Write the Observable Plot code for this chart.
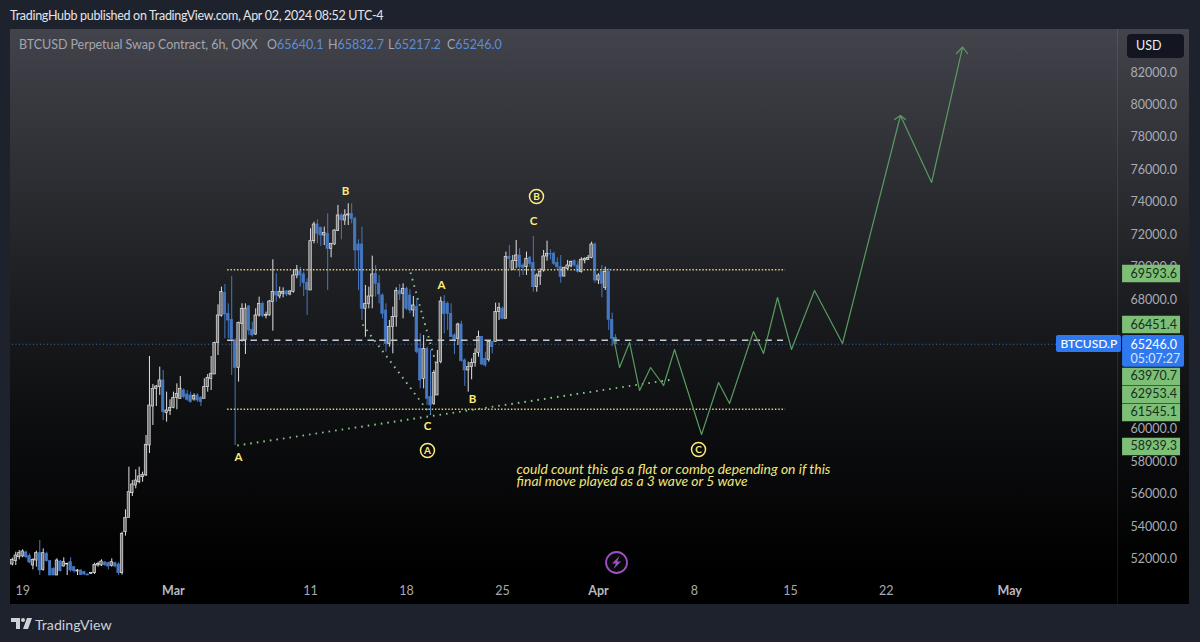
<!DOCTYPE html>
<html><head><meta charset="utf-8">
<script src="https://cdn.jsdelivr.net/npm/d3@7"></script>
<script src="https://cdn.jsdelivr.net/npm/@observablehq/plot@0.6"></script>
<style>
html,body{margin:0;padding:0;width:1200px;height:642px;overflow:hidden;background:#1e222d;font-family:Lato,"Noto Sans",sans-serif}
.abs{position:absolute;white-space:nowrap}
#panel{left:10px;top:29px;width:1179px;height:575px;background:linear-gradient(#42434b 0,#35363c 16%,#1c1d20 47%,#0d0e10 68%,#000 95%)}
#sep{left:1117px;top:29px;width:1px;height:575px;background:rgba(255,255,255,.09)}
#chart{left:0;top:0}
#pub{left:10px;top:8px;font-size:12.5px;letter-spacing:-.3px;color:#e3e5ea}
.leg{top:37px;font-size:12.5px;color:#a3a6ae}
.leg b{font-weight:400;color:#5a8fd8}
#usd{left:1127px;top:34px;width:57px;height:24px;background:#131521;border-radius:4px;color:#eceef2;font-size:12.5px;line-height:24px;text-indent:9px}
#wm{left:35px;top:616px;font-size:14.2px;color:#ced1d8}
#logo{left:11px;top:618px}
</style></head><body>
<div class="abs" id="panel"></div>
<div class="abs" id="sep"></div>
<div class="abs" id="chart"></div>
<div class="abs" id="pub">TradingHubb published on TradingView.com, Apr 02, 2024 08:52 UTC-4</div>
<div class="abs leg" style="left:19px;letter-spacing:-.06px">BTCUSD Perpetual Swap Contract, 6h, OKX</div>
<div class="abs leg" style="left:267px">O<b>65640.1</b></div>
<div class="abs leg" style="left:328px">H<b>65832.7</b></div>
<div class="abs leg" style="left:388px">L<b>65217.2</b></div>
<div class="abs leg" style="left:447px">C<b>65246.0</b></div>
<div class="abs" id="usd">USD</div>
<svg class="abs" id="logo" width="22" height="12" viewBox="0 0 22 12"><path fill="#ced1d8" d="M0 0h9v11H5V4H0z"/><circle cx="12" cy="2" r="2" fill="#ced1d8"/><path fill="#ced1d8" d="M16 0h5l-4 11h-5z"/></svg>
<div class="abs" id="wm">TradingView</div>
<script>
const opens=[51668,51874,52120,52162,52408,52203,51607,51915,52367,51340,52326,51874,51401,50990,51853,51545,51668,51812,51504,51237,51298,51196,51052,51093,51134,51607,51607,51792,51751,51586,51751,51668,51134,53662,54545,56066,56539,56744,57052,57155,59005,61411,62500,62602,63013,61000,61123,61328,61945,61883,62397,62150,62089,61842,62089,61945,61883,62602,63116,63383,65315,67000,68398,67123,66754,65479,63794,66507,65479,67576,66137,65849,67021,67740,67000,67021,67843,68459,68192,68356,68500,68315,68459,69487,69733,69548,69014,68562,71603,72631,72425,71953,72055,71131,71398,72220,73186,72877,73186,73288,72980,71398,71398,67432,67740,68192,69589,68973,68254,67329,65274,66302,66918,68521,68356,68665,68254,67329,67535,64966,63116,64966,61986,61575,62089,64144,67843,67740,67123,65788,65582,66466,64247,63630,63835,64082,64699,65685,64349,64288,65377,65377,67226,67432,66815,70617,69836,70370,70720,70103,70000,70576,70247,68767,69425,69795,70658,70822,70822,70247,70000,69425,69898,70042,70370,70103,69692,70412,70453,70576,71398,69179,69692,68726,69692,66754,65640.1];
const closes=[51956,52223,52367,52470,52120,51792,51956,52367,51298,52367,51874,50990,50990,51915,51257,51812,51709,51298,51257,51298,51011,51052,50990,51155,51648,51709,51853,51627,51545,51812,51545,51134,53559,54545,56128,56600,56847,57094,57196,59046,61471,62500,62644,63013,61061,61164,61328,61945,62191,62500,61986,61822,61678,62048,61780,61678,62602,63178,63424,65315,67021,68459,67082,66712,65582,63794,66548,67432,67432,66096,65788,67021,67740,66980,67062,67884,68459,68254,68459,68459,68315,68500,69487,69836,69487,69014,68603,71603,72631,72055,71953,72117,71131,71439,72261,73186,72877,73186,73247,72980,71028,71028,67432,67740,68192,69548,68973,68315,67123,65274,66302,66918,68521,68315,68665,67432,67329,67637,64760,63013,64966,61883,61472,63466,64082,67884,67123,67123,65685,65479,66466,64205,63630,63835,64082,64657,65685,63999,63938,65377,65068,67226,67493,66815,70617,70514,70370,70720,70000,69959,70514,70206,68767,69487,69692,70658,70822,70781,70206,70000,69384,69959,70103,70309,70103,69692,70453,70514,70576,71398,69179,69487,68973,69692,66754,65582,65246];
const highs=[52059,52429,52531,52573,52490,52326,52018,52490,53148,52634,52429,51915,51463,52018,51915,52079,51751,52079,51545,51360,51340,51257,51093,51175,51751,51812,51956,51853,51812,52018,51812,51771,53662,55039,57669,56847,57505,57669,57361,59621,64492,62767,62705,63835,63630,62294,61822,62294,62808,63260,62500,62397,62294,62191,62191,62027,63116,63383,64493,65377,67678,68767,68932,67740,69425,65582,66610,67740,67740,67637,66610,67432,68151,67843,67226,67945,70453,69589,68767,68726,68562,68562,69836,70103,70000,69692,69281,72364,72775,72919,72466,72466,73288,71439,72302,73802,73288,73535,73905,73905,73083,71686,72466,68870,68767,70679,70103,69487,68356,67740,66712,67535,68726,68932,68973,68767,68603,68192,68048,65890,65788,65068,64863,63630,64863,68151,68254,67843,67740,65890,66548,66671,64349,64144,64349,64966,66055,65726,64760,65479,65377,67781,67781,67535,70925,71336,70720,71644,71131,70206,70925,70658,71891,69589,69898,71028,71603,71069,70925,70576,70720,70000,70412,70370,70453,70370,70576,70576,70720,71542,71480,69589,70103,70000,69898,67165,65832.7];
const lows=[51586,51607,51956,52079,52018,51709,51340,51504,50990,51257,51812,50990,50990,50990,51196,51504,50990,51196,51134,50990,50990,50990,50990,51052,51052,51504,51545,51545,51340,51504,51463,50990,51011,53415,54545,55861,56333,56641,56744,57094,58511,60239,61411,62089,60547,60445,60856,61267,61205,61883,61883,61739,61616,61739,61678,61411,61883,62294,62397,63383,64555,66918,65582,65582,63322,59006,62911,65377,64616,65788,65685,65788,66918,66877,66815,66980,66055,67843,68048,68110,68192,68233,68398,69281,68767,68192,67021,68562,71439,71439,71275,71336,68562,70576,71336,72220,71686,72569,72569,72672,69795,68562,66712,65685,67432,67432,68151,67740,66815,64760,65068,64657,66302,67945,66815,67329,67123,66918,64657,62500,62500,61472,60856,61472,62089,64041,65890,66096,65685,64616,65171,64144,62644,62294,63055,63835,64452,63938,63835,64144,64657,65377,66712,66754,66815,69898,69795,69898,69384,69487,69487,70000,68459,68459,68870,69692,70370,70453,70103,69795,69014,69384,69836,69959,70000,69631,69631,70206,70412,70514,69014,68932,68110,68562,66096,65110,65217.2];

const lastBarDay=22.25, barStep=0.25;
const axisPrices=[52000,54000,56000,58000,60000,68000,70000,72000,74000,76000,78000,80000,82000];
const dayLabels=[[-21,"19"],[0,"11"],[7,"18"],[14,"25"],[28,"8"],[35,"15"],[42,"22"]];
const monthLabels=[[-10,"Mar"],[21,"Apr"],[51,"May"]];
const projDays=[22.10,22.54,23.27,24.00,24.80,25.75,26.55,28.52,29.76,30.56,32.31,33.04,34.06,35.08,36.76,38.80,43.03,45.30,47.56];
const projPrices=[65663,63813,65355,62395,63813,62704,64923,59683,62888,61594,66033,64677,68129,64923,68561,65293,79349,75219,83572];
const arrowDays=[[42.6,43.03,43.4],[47.12,47.56,47.92]];
const arrowPrices=[[79103,79349,79103],[83172,83572,83172]];
const levelLines=[69840,61240];
const dashedLevel=65497, lastPrice=65246;
const dottedSegs=[[-5.35,59005,26.4,63074],[3.79,66464,8.75,60916],[7.29,69670,9.19,63937]];
const waveLabels=[[2.55,74664,"B"],[-5.25,58265,"A"],[8.53,60176,"C"],[9.56,68869,"A"],[11.82,61840,"B"],[16.27,72814,"C"]];
const circleLabels=[[16.48,74356,"B"],[8.53,58696,"A"],[28.3,58758,"C"]];
const noteLines=["could count this as a flat or combo depending on if this","final move played as a 3 wave or 5 wave"];
const notePrices=[57525,56755];
const tagLabels=["69593.6","66451.4","63970.7","62953.4","61545.1","58939.3"];
const tagAt=[69608,66464,63259,62149,61040,58944];

const base=Date.UTC(2024,2,11);
const day=d=>new Date(base+d*864e5);
const bars=opens.map((o,i)=>({d:lastBarDay-(opens.length-1-i)*barStep,o,c:closes[i],h:highs[i],l:lows[i],up:closes[i]>=o}));
const UP="#e2e2e2",DOWN="#4678c2",GREEN="#5a9a62",YEL="#fdec7b",NOTE="#efe67a",TAG="#7dbf77",BLUE="#2e78f0";
const hw=0.09;
const proj=projDays.map((d,i)=>({x:day(d),y:projPrices[i]}));
const arrows=arrowDays.flatMap((a,k)=>a.map((d,i)=>({x:day(d),y:arrowPrices[k][i],k})));
const TAGX=[day(59.23),day(63.46)], TXT=day(59.81);
const bolt={draw(c,s){const r=Math.sqrt(s);c.moveTo(r*.28,-r*.62);c.lineTo(-r*.42,r*.1);c.lineTo(-r*.06,r*.1);c.lineTo(-r*.28,r*.62);c.lineTo(r*.42,-r*.1);c.lineTo(r*.06,-r*.1);c.closePath();}};

const chart=Plot.plot({
  width:1200,height:642,
  marginLeft:12,marginRight:83,marginTop:30,marginBottom:67,
  style:{background:"transparent",fontFamily:'Lato,"Noto Sans",sans-serif',overflow:"visible"},
  x:{type:"utc",domain:[day(-21.74),day(58.86)]},
  y:{domain:[50990,84590]},
  marks:[
    Plot.axisY(axisPrices,{anchor:"right",tickSize:0,tickPadding:13,textAnchor:"start",label:null,tickFormat:d=>d.toFixed(1),fill:"#a9abb3",fontSize:12.5}),
    Plot.axisX(dayLabels.map(d=>day(d[0])),{anchor:"bottom",tickSize:0,tickPadding:11,label:null,fill:"#a9abb3",fontSize:12.5,tickFormat:(d)=>dayLabels.find(k=>+day(k[0])===+d)[1]}),
    Plot.axisX(monthLabels.map(d=>day(d[0])),{anchor:"bottom",tickSize:0,tickPadding:11,label:null,fill:"#b8bac2",fontSize:12.5,fontWeight:"bold",tickFormat:(d)=>monthLabels.find(k=>+day(k[0])===+d)[1]}),
    Plot.ruleY([lastPrice],{x1:day(-21.74),x2:day(54.41),stroke:"#3f66b4",strokeDasharray:"1 2.5",strokeWidth:1}),
    Plot.ruleX(bars,{x:b=>day(b.d),y1:"l",y2:"h",stroke:b=>b.up?UP:DOWN,strokeWidth:1}),
    Plot.rect(bars,{x1:b=>day(b.d-hw),x2:b=>day(b.d+hw),y1:"o",y2:"c",fill:b=>b.up?"#747474":DOWN,stroke:b=>b.up?UP:DOWN,strokeWidth:.7}),
    Plot.ruleY(levelLines,{x1:day(-6.05),x2:day(34.65),stroke:"#dcca7e",strokeWidth:1.6,strokeDasharray:"1.5 1.8"}),
    Plot.ruleY([dashedLevel],{x1:day(-6.05),x2:day(34.5),stroke:"#c9c9c9",strokeWidth:1.6,strokeDasharray:"6.5 5.2"}),
    Plot.link(dottedSegs,{x1:s=>day(s[0]),y1:s=>s[1],x2:s=>day(s[2]),y2:s=>s[3],stroke:"#8cc48c",strokeWidth:1.9,strokeDasharray:"1.6 5"}),
    Plot.line(proj,{x:"x",y:"y",stroke:GREEN,strokeWidth:1.2}),
    Plot.line(arrows,{x:"x",y:"y",z:"k",stroke:GREEN,strokeWidth:1.2}),
    Plot.text(waveLabels,{x:d=>day(d[0]),y:d=>d[1],text:d=>d[2],fill:YEL,fontWeight:"bold",fontSize:11.5}),
    Plot.dot(circleLabels,{x:d=>day(d[0]),y:d=>d[1],r:7,stroke:YEL,strokeWidth:1.5}),
    Plot.text(circleLabels,{x:d=>day(d[0]),y:d=>d[1],text:d=>d[2],fill:YEL,fontWeight:"bold",fontSize:10}),
    Plot.text(noteLines,{x:day(15.03),y:(d,i)=>notePrices[i],text:d=>d,textAnchor:"start",fill:NOTE,fontStyle:"italic",fontSize:13.9}),
    Plot.dot([0],{x:day(22.32),y:51792,r:10.5,stroke:"#a04fc4",strokeWidth:1.8,fill:"#0a0a0c"}),
    Plot.dot([0],{x:day(22.32),y:51792,symbol:bolt,r:6,fill:"#a04fc4"}),
    Plot.ruleY(tagAt,{x1:TAGX[0],x2:TAGX[1],stroke:TAG,strokeWidth:17.5}),
    Plot.text(tagLabels,{x:TXT,y:(d,i)=>tagAt[i],text:d=>d,textAnchor:"start",fill:"#16301a",fontSize:12.5}),
    Plot.rect([0],{x1:TAGX[0],x2:day(63.75),y1:63832,y2:65786,fill:BLUE,rx:2}),
    Plot.rect([0],{x1:day(54.41),x2:day(59.15),y1:64738,y2:65786,fill:BLUE,rx:2}),
    Plot.text(["BTCUSD.P"],{x:day(54.7),y:65231,text:d=>d,textAnchor:"start",fill:"#fff",fontSize:12,fontWeight:500}),
    Plot.text(["65246.0"],{x:TXT,y:65231,text:d=>d,textAnchor:"start",fill:"#fff",fontSize:12.5}),
    Plot.text(["05:07:27"],{x:TXT,y:64368,text:d=>d,textAnchor:"start",fill:"#d8e4fb",fontSize:12.5})
  ]
});
document.getElementById("chart").appendChild(chart);
</script>
</body></html>
